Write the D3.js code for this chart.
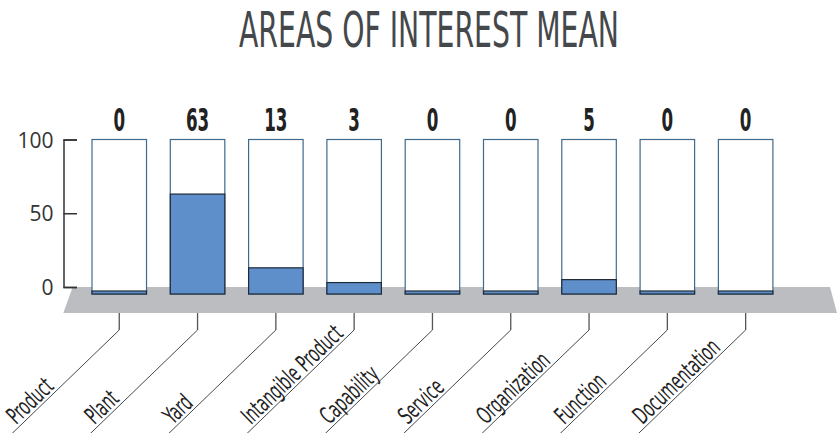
<!DOCTYPE html>
<html>
<head>
<meta charset="utf-8">
<script src="https://cdn.jsdelivr.net/npm/d3@7"></script>
<style>
  body { margin: 0; background: #fff; }
  svg { display: block; }
</style>
</head>
<body>
<div id="chart"></div>
<script>
// Areas of interest mean - bar "cylinders" on a grey floor

var categories = ["Product", "Plant", "Yard", "Intangible Product", "Capability",
                  "Service", "Organization", "Function", "Documentation"];
var values = [0, 63, 13, 3, 0, 0, 5, 0, 0];
var yTicks = [0, 50, 100];
var title = "AREAS OF INTEREST MEAN";

var width = 837, height = 433;

var svg = d3.select("#chart").append("svg")
    .attr("width", width)
    .attr("height", height);

var x = d3.scaleBand()
    .domain(categories)
    .range([91.5, 773.4])
    .paddingInner(0.291)
    .paddingOuter(0);

var y = d3.scaleLinear()
    .domain([0, 100])
    .range([287, 139.5]);

var base = y(0) + 7;       // bars stand a little into the floor
var floorBottom = y(0) + 26;
var cond = "'DejaVu Sans Condensed', 'DejaVu Sans', sans-serif";

// title, squeezed like the condensed original
svg.append("text")
    .attr("x", 239)
    .attr("y", 46.5)
    .attr("textLength", 380)
    .attr("lengthAdjust", "spacingAndGlyphs")
    .style("font-family", cond)
    .style("font-size", "49px")
    .style("fill", "#45484b")
    .text(title);

// the grey floor
svg.append("path")
    .attr("d", "M" + 72.7 + "," + y(0) + "L" + 830 + "," + y(0) +
               "L" + width + "," + floorBottom + "L" + 63.3 + "," + floorBottom + "Z")
    .style("fill", "#bcbdc1");

// y axis, bracket style with ticks pointing right
var yAxis = d3.axisLeft(y)
    .tickValues(yTicks)
    .tickSizeInner(-13.5)
    .tickSizeOuter(-13.5)
    .tickPadding(10);

var gy = svg.append("g")
    .attr("transform", "translate(63.5,0)")
    .call(yAxis);
gy.selectAll("path, line").style("stroke", "#333").style("stroke-width", 1.5);
gy.selectAll("text")
    .style("font-family", "'Open Sans', sans-serif")
    .style("font-size", "21px")
    .style("fill", "#333")
    .attr("dy", "0.36em");

var bars = svg.selectAll(".bar")
    .data(categories)
  .enter().append("g")
    .attr("class", "bar");

// empty frame up to 100
bars.append("rect")
    .attr("x", function(d) { return x(d) + 0.5; })
    .attr("y", y(100))
    .attr("width", x.bandwidth() - 1)
    .attr("height", base - y(100))
    .style("fill", "#fff")
    .style("stroke", "#3f6a8c")
    .style("stroke-width", 1.2);

// value part, zero values keep a thin strip
function barTop(v) { return v > 0 ? y(v) : base - 3; }

bars.append("rect")
    .attr("x", function(d) { return x(d) + 0.5; })
    .attr("y", function(d, i) { return barTop(values[i]); })
    .attr("width", x.bandwidth() - 1)
    .attr("height", function(d, i) { return base - barTop(values[i]); })
    .style("fill", "#5f8fca")
    .style("stroke", "#1e2a38")
    .style("stroke-width", 1.2);

// value labels on top
bars.append("text")
    .attr("transform", function(d) { return "translate(" + (x(d) + x.bandwidth() / 2) + ",131) scale(0.58,1)"; })
    .attr("text-anchor", "middle")
    .style("font-family", cond)
    .style("font-weight", "bold")
    .style("font-size", "32px")
    .style("fill", "#222")
    .text(function(d, i) { return values[i]; });

// leader lines and slanted category labels
var knee = 330, ang = 44, run = 101;
var dxRun = run / Math.tan(ang * Math.PI / 180);

bars.append("path")
    .attr("d", function(d) {
        var cx = x(d) + x.bandwidth() / 2;
        return "M" + cx + "," + floorBottom + "L" + cx + "," + knee;
    })
    .style("fill", "none")
    .style("stroke", "#555")
    .style("stroke-width", 1.3);

bars.append("path")
    .attr("d", function(d) {
        var cx = x(d) + x.bandwidth() / 2;
        return "M" + cx + "," + knee + "L" + (cx - dxRun * 1.15) + "," + (knee + run * 1.15);
    })
    .style("fill", "none")
    .style("stroke", "#333")
    .style("stroke-width", 0.9);

bars.append("text")
    .attr("transform", function(d) {
        var cx = x(d) + x.bandwidth() / 2;
        return "translate(" + (cx - dxRun) + "," + (knee + run) + ") rotate(" + (-ang) + ") translate(5,-3) scale(0.66,1)";
    })
    .style("font-family", cond)
    .style("font-size", "24px")
    .style("fill", "#222")
    .text(function(d) { return d; });
</script>
</body>
</html>
